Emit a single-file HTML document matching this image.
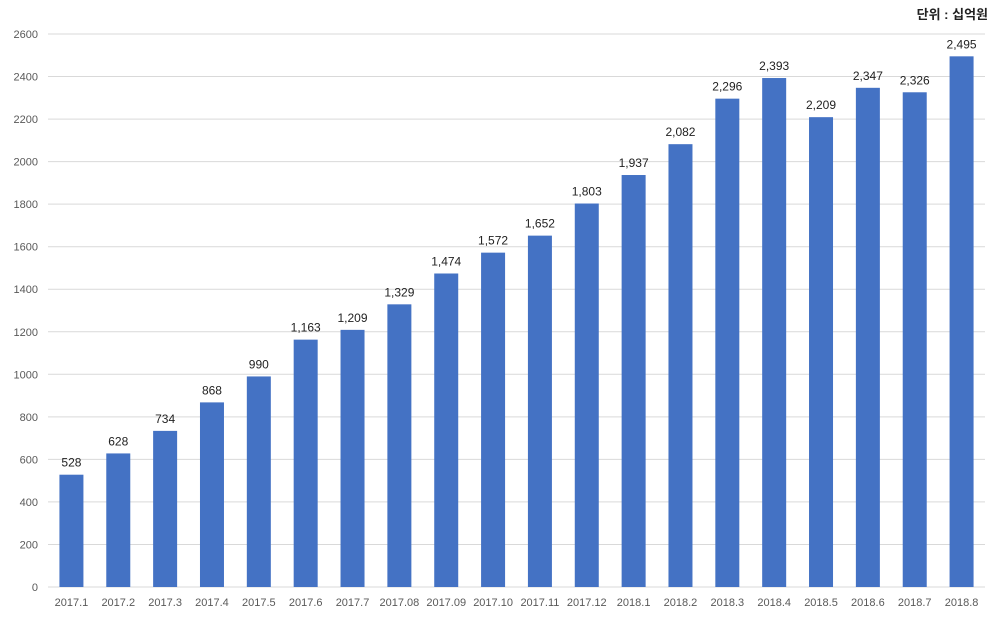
<!DOCTYPE html>
<html><head><meta charset="utf-8"><style>
body{margin:0;background:#fff;width:1000px;height:612px;overflow:hidden}
svg{font-family:"Liberation Sans","Noto Sans CJK KR",sans-serif}
</style></head><body>
<svg id="chart" width="1000" height="612" viewBox="0 0 1000 612">
<text x="988" y="19" text-anchor="end" font-size="13" font-weight="bold" fill="#222">단위 : 십억원</text>
<g id="grid"></g><g id="bars"></g><g id="labels"></g>
</svg>
<script>
const categories=["2017.1","2017.2","2017.3","2017.4","2017.5","2017.6","2017.7","2017.08","2017.09","2017.10","2017.11","2017.12","2018.1","2018.2","2018.3","2018.4","2018.5","2018.6","2018.7","2018.8"];
const values=[528,628,734,868,990,1163,1209,1329,1474,1572,1652,1803,1937,2082,2296,2393,2209,2347,2326,2495];
const yTicks=[0,200,400,600,800,1000,1200,1400,1600,1800,2000,2200,2400,2600];
const NS="http://www.w3.org/2000/svg";
const x0=48,x1=985,yBase=587,yTop=34,yMax=2600;
const y=v=>yBase-(v/yMax)*(yBase-yTop);
const step=(x1-x0)/categories.length;
const xc=i=>x0+step*(i+0.5);
const bw=24;
function mk(t,p,a){const e=document.createElementNS(NS,t);for(const k in a)e.setAttribute(k,a[k]);p.appendChild(e);return e;}
const g=document.getElementById('grid'),b=document.getElementById('bars'),l=document.getElementById('labels');
yTicks.forEach(v=>{
 const ln=mk('line',g,{x1:x0,x2:x1,y1:y(v),y2:y(v),stroke:'#d9d9d9','stroke-width':1});
 
 
 const t=mk('text',g,{x:38,y:y(v)+4,'text-anchor':'end','font-size':11,fill:'#595959'});
 t.textContent=v;
 
 
});
values.forEach((v,i)=>{
 const r=mk('rect',b,{x:xc(i)-bw/2,y:y(v),width:bw,height:yBase-y(v),fill:'#4472c4'});
 
 
 const t=mk('text',l,{x:xc(i),y:y(v)-8,'text-anchor':'middle','font-size':12,fill:'#222'});
 t.textContent=v.toLocaleString('en-US');
 
 
 const c=mk('text',l,{x:xc(i),y:606,'text-anchor':'middle','font-size':11,fill:'#595959'});
 c.textContent=categories[i];
 
 
});
</script>
</body></html>
